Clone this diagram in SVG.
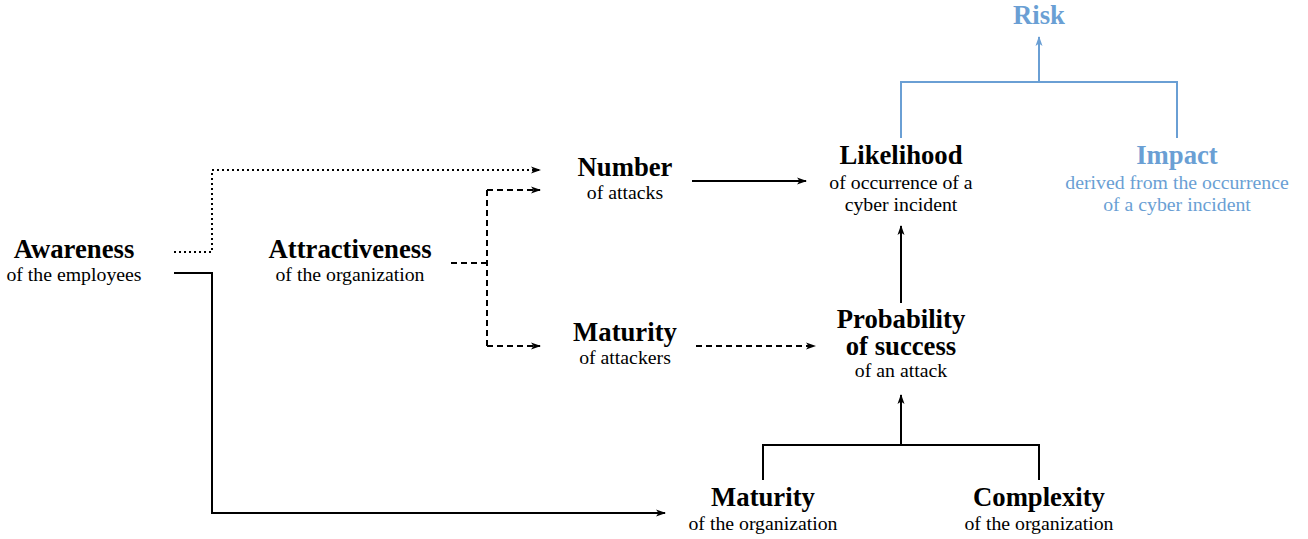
<svg xmlns="http://www.w3.org/2000/svg" width="1308" height="539" viewBox="0 0 1308 539">
<style>
text{font-family:"Liberation Serif","Times New Roman",serif;text-anchor:middle;fill:#000}
.t{font-size:26.7px;font-weight:bold}
.s{font-size:19.8px}
.b{fill:#6a9fd4}
.ln{fill:none;stroke:#000;stroke-width:2}
.dot{stroke-dasharray:2 3}
.dash{stroke-dasharray:6 4}
.blue{stroke:#6a9fd4}
</style>
<defs>
<marker id="ah" viewBox="0 0 10 10" refX="9" refY="5" markerWidth="10" markerHeight="10" markerUnits="userSpaceOnUse" orient="auto">
<path d="M0,1.5 L10,5 L0,8.5 L2.5,5 Z" fill="#000"/>
</marker>
<marker id="ahb" viewBox="0 0 10 10" refX="9" refY="5" markerWidth="10" markerHeight="10" markerUnits="userSpaceOnUse" orient="auto">
<path d="M0,1.5 L10,5 L0,8.5 L2.5,5 Z" fill="#6a9fd4"/>
</marker>
</defs>
<g id="connectors">
<path class="ln dot" d="M174,252 H212 V170 H540" marker-end="url(#ah)"/>
<path class="ln dash" d="M451,263 H487"/>
<path class="ln dash" d="M487,190 V346"/>
<path class="ln dash" d="M487,190 H540" marker-end="url(#ah)"/>
<path class="ln dash" d="M487,346 H540" marker-end="url(#ah)"/>
<path class="ln" d="M174,273 H212 V513 H665" marker-end="url(#ah)"/>
<path class="ln" d="M692,181 H806" marker-end="url(#ah)"/>
<path class="ln dash" d="M696,346 H815" marker-end="url(#ah)"/>
<path class="ln" d="M901,303 V226" marker-end="url(#ah)"/>
<path class="ln" d="M763,480 V445 H1039 V480"/>
<path class="ln" d="M901,445 V395" marker-end="url(#ah)"/>
<path class="ln blue" d="M901,138 V82 H1177 V138"/>
<path class="ln blue" d="M1039,82 V37" marker-end="url(#ahb)"/>
</g>
<g id="awareness"><text class="t" x="74" y="258">Awareness</text><text class="s" x="74" y="281">of the employees</text></g>
<g id="attractiveness"><text class="t" x="350" y="258">Attractiveness</text><text class="s" x="350" y="281">of the organization</text></g>
<g id="number"><text class="t" x="625" y="176">Number</text><text class="s" x="625" y="199">of attacks</text></g>
<g id="maturity-attackers"><text class="t" x="625" y="341">Maturity</text><text class="s" x="625" y="364">of attackers</text></g>
<g id="likelihood"><text class="t" x="901" y="164">Likelihood</text><text class="s" x="901" y="189">of occurrence of a</text><text class="s" x="901" y="211">cyber incident</text></g>
<g id="impact"><text class="t b" x="1177" y="164">Impact</text><text class="s b" x="1177" y="189">derived from the occurrence</text><text class="s b" x="1177" y="211">of a cyber incident</text></g>
<g id="risk"><text class="t b" x="1039" y="24">Risk</text></g>
<g id="probability"><text class="t" x="901" y="328">Probability</text><text class="t" x="901" y="355">of success</text><text class="s" x="901" y="377">of an attack</text></g>
<g id="maturity-org"><text class="t" x="763" y="506">Maturity</text><text class="s" x="763" y="530">of the organization</text></g>
<g id="complexity"><text class="t" x="1039" y="506">Complexity</text><text class="s" x="1039" y="530">of the organization</text></g>
</svg>
